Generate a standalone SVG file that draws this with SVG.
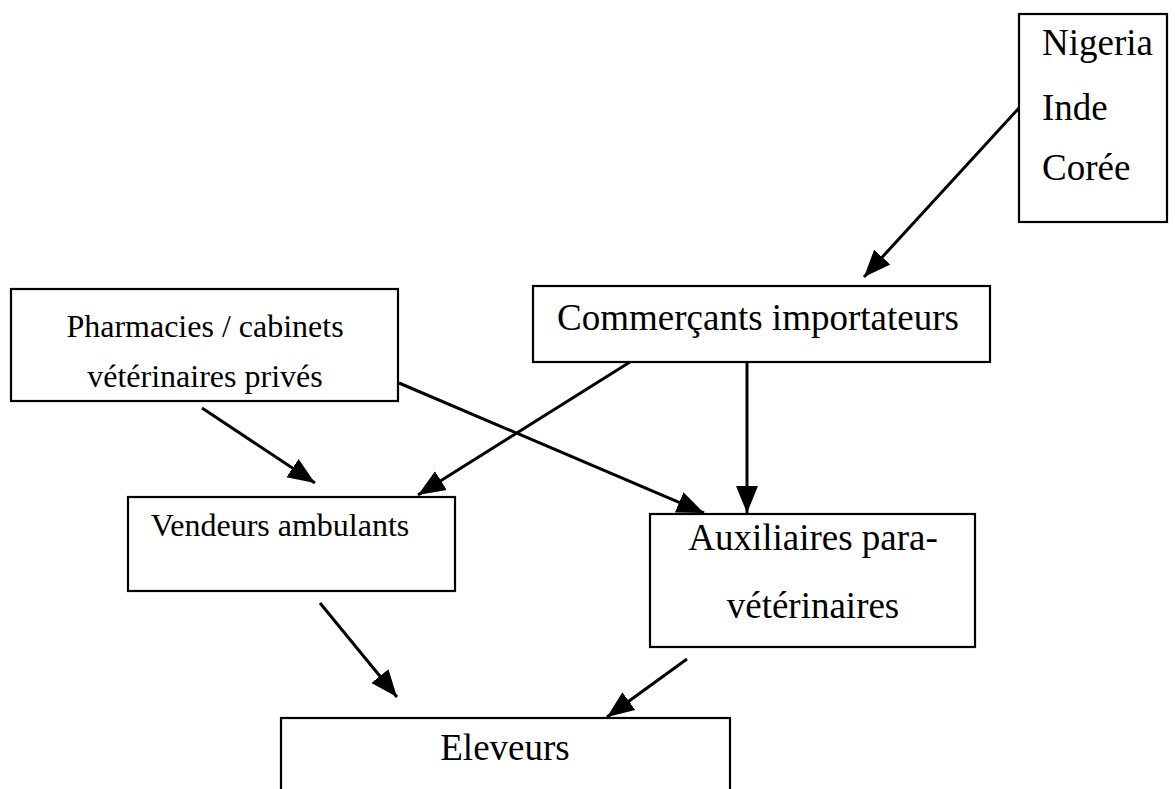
<svg xmlns="http://www.w3.org/2000/svg" width="1175" height="789" viewBox="0 0 1175 789">
<style>
.box{fill:none;stroke:#000;stroke-width:2.2}
.t{font-family:"Liberation Serif","Times New Roman",serif;fill:#000}
.big{font-size:37px}
.small{font-size:32px}
.c{text-anchor:middle}
.edge{stroke:#000;stroke-width:3;fill:none;marker-end:url(#ah)}
</style>
<defs>
<marker id="ah" markerUnits="userSpaceOnUse" markerWidth="28" markerHeight="24" refX="27" refY="12" orient="auto">
<path d="M0,1 L27,12 L0,23 z" fill="#000"/>
</marker>
</defs>
<rect width="1175" height="789" fill="#fff"/>
<g id="nigeria">
<rect class="box" x="1019" y="14" width="148" height="208"/>
<text class="t big" x="1042" y="55">Nigeria</text>
<text class="t big" x="1042" y="120">Inde</text>
<text class="t big" x="1042" y="180">Corée</text>
</g>
<g id="commercants">
<rect class="box" x="533" y="286" width="457" height="76"/>
<text class="t big c" x="758" y="330">Commerçants importateurs</text>
</g>
<g id="pharmacies">
<rect class="box" x="11" y="289" width="387" height="112"/>
<text class="t small c" x="205" y="337">Pharmacies / cabinets</text>
<text class="t small c" x="205" y="387">vétérinaires privés</text>
</g>
<g id="vendeurs">
<rect class="box" x="128" y="497" width="327" height="94"/>
<text class="t small c" x="280" y="536">Vendeurs ambulants</text>
</g>
<g id="auxiliaires">
<rect class="box" x="650" y="514" width="325" height="133"/>
<text class="t big c" x="813" y="550">Auxiliaires para-</text>
<text class="t big c" x="813" y="618">vétérinaires</text>
</g>
<g id="eleveurs">
<rect class="box" x="281" y="718" width="449" height="100"/>
<text class="t big c" x="505" y="760">Eleveurs</text>
</g>
<g id="connectors">
<line class="edge" x1="1019" y1="108" x2="864" y2="277"/>
<line class="edge" x1="630" y1="362" x2="418" y2="495"/>
<line class="edge" x1="399" y1="383" x2="704" y2="513"/>
<line class="edge" x1="747" y1="362" x2="747" y2="513"/>
<line class="edge" x1="202" y1="408" x2="315" y2="483"/>
<line class="edge" x1="320" y1="603" x2="397" y2="697"/>
<line class="edge" x1="687" y1="659" x2="607" y2="717"/>
</g>
</svg>
